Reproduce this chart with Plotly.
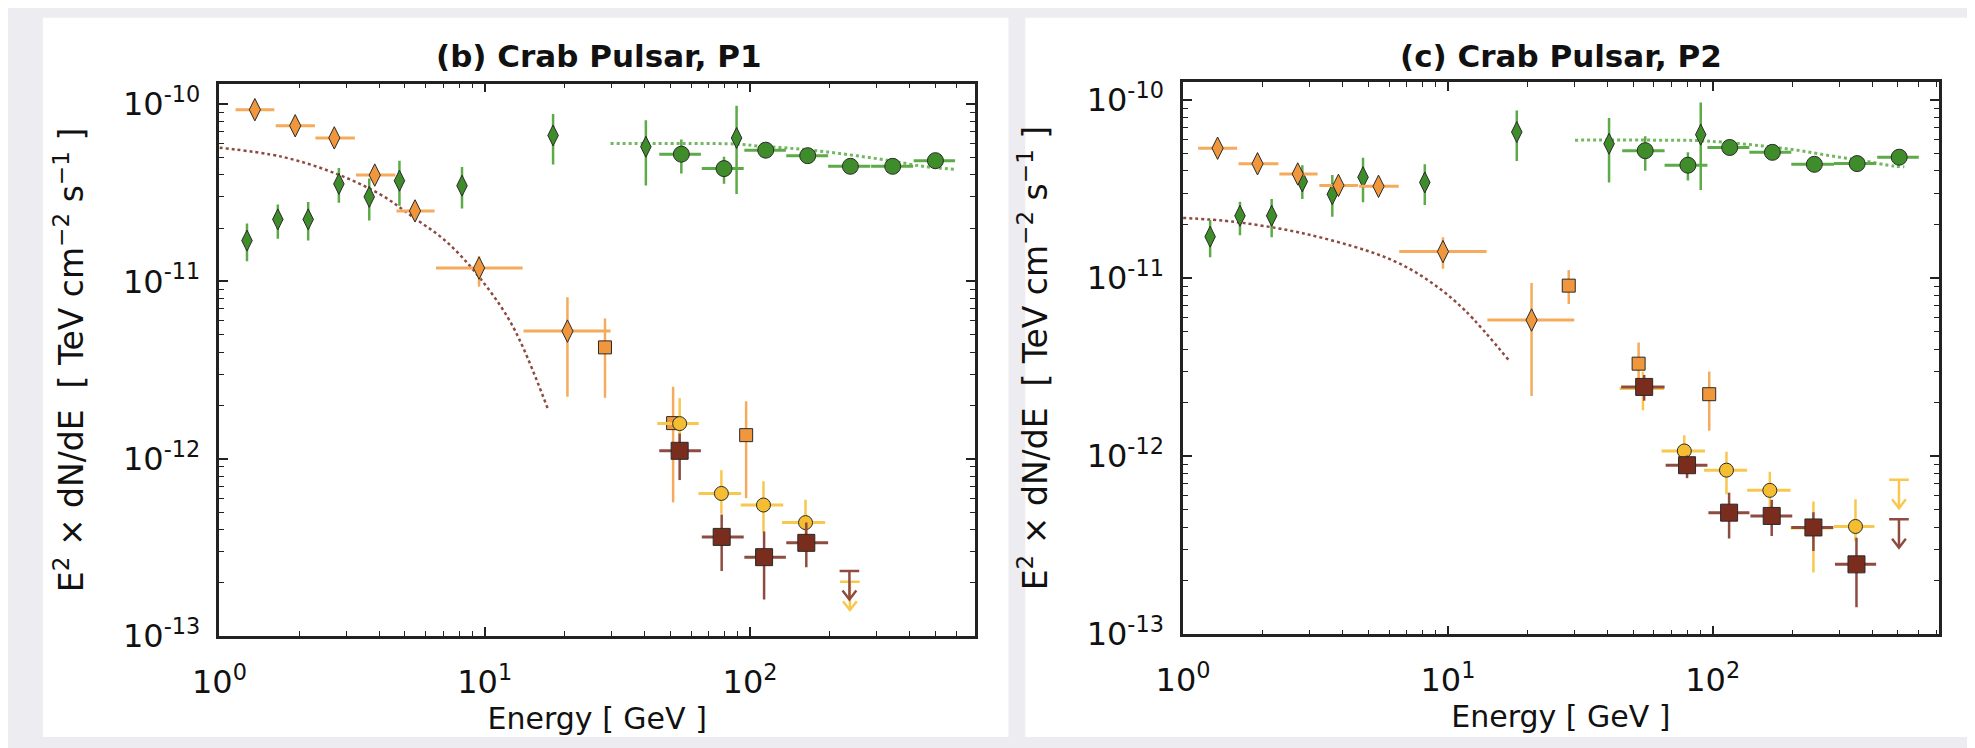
import numpy as np
import plotly.graph_objects as go

# ---------------- data ----------------
# Panel (b) Crab Pulsar, P1
p1_green_diam_E = [1.27, 1.66, 2.16, 2.82, 3.67, 4.77, 8.21, 18.1, 40.5, 89.0]
p1_green_diam_F = [1.70e-11, 2.24e-11, 2.24e-11, 3.55e-11, 3.00e-11, 3.70e-11, 3.47e-11, 6.66e-11, 5.75e-11, 6.44e-11]
p1_green_diam_lo = [1.30e-11, 1.74e-11, 1.70e-11, 2.78e-11, 2.21e-11, 2.67e-11, 2.58e-11, 4.57e-11, 3.48e-11, 3.11e-11]
p1_green_diam_hi = [2.12e-11, 2.72e-11, 2.81e-11, 4.36e-11, 3.81e-11, 4.80e-11, 4.42e-11, 8.81e-11, 8.11e-11, 9.79e-11]

p1_green_circ_E = [55.1, 79.8, 114.6, 165.0, 239.0, 345.0, 500.0]
p1_green_circ_Elo = [45.5, 65.8, 95.2, 137.0, 197.0, 286.0, 414.0]
p1_green_circ_Ehi = [65.3, 94.7, 136.5, 197.0, 284.0, 412.0, 593.0]
p1_green_circ_F = [5.22e-11, 4.33e-11, 5.50e-11, 5.12e-11, 4.46e-11, 4.46e-11, 4.80e-11]
p1_green_circ_lo = [4.06e-11, 3.56e-11, 5.15e-11, 4.80e-11, 4.15e-11, 4.15e-11, 4.45e-11]
p1_green_circ_hi = [6.31e-11, 5.05e-11, 5.85e-11, 5.45e-11, 4.80e-11, 4.80e-11, 5.20e-11]

p1_nebula_model_E = [29.8, 60.0, 90.0, 108.0, 143.0, 190.0, 253.0, 337.0, 448.0, 596.0]
p1_nebula_model_F = [6.0e-11, 6.0e-11, 5.95e-11, 5.8e-11, 5.63e-11, 5.4e-11, 5.11e-11, 4.8e-11, 4.46e-11, 4.28e-11]

p1_cutoff_model_E = [1.0, 1.72, 2.71, 4.05, 5.38, 7.16, 9.52, 12.7, 17.3]
p1_cutoff_model_F = [5.68e-11, 5.05e-11, 4.09e-11, 3.09e-11, 2.30e-11, 1.68e-11, 1.06e-11, 5.66e-12, 1.91e-12]

p1_orange_diam_E = [1.36, 1.93, 2.71, 3.85, 5.46, 9.52, 20.5]
p1_orange_diam_Elo = [1.15, 1.63, 2.30, 3.27, 4.65, 6.55, 14.0]
p1_orange_diam_Ehi = [1.61, 2.29, 3.24, 4.60, 6.47, 13.9, 29.8]
p1_orange_diam_F = [9.3e-11, 7.55e-11, 6.45e-11, 3.98e-11, 2.50e-11, 1.19e-11, 5.25e-12]
p1_orange_diam_lo = [8.8e-11, 7.15e-11, 6.05e-11, 3.72e-11, 2.33e-11, 9.35e-12, 2.24e-12]
p1_orange_diam_hi = [9.8e-11, 7.95e-11, 6.85e-11, 4.25e-11, 2.68e-11, 1.39e-11, 8.15e-12]

p1_orange_sq_E = [28.4, 51.3, 96.7]
p1_orange_sq_F = [4.25e-12, 1.59e-12, 1.36e-12]
p1_orange_sq_lo = [2.21e-12, 5.68e-13, 6.0e-13]
p1_orange_sq_hi = [6.19e-12, 2.55e-12, 2.11e-12]

p1_yellow_E = [54.3, 78.0, 112.4, 161.9]
p1_yellow_Elo = [44.7, 63.9, 92.2, 132.0]
p1_yellow_Ehi = [64.1, 92.6, 133.4, 192.0]
p1_yellow_F = [1.58e-12, 6.38e-13, 5.49e-13, 4.37e-13]
p1_yellow_lo = [1.15e-12, 4.90e-13, 3.86e-13, 3.40e-13]
p1_yellow_hi = [2.20e-12, 8.63e-13, 7.48e-13, 5.87e-13]

p1_brown_E = [54.3, 78.2, 113.0, 163.0]
p1_brown_Elo = [45.5, 65.8, 95.2, 137.0]
p1_brown_Ehi = [65.3, 94.7, 136.5, 197.0]
p1_brown_F = [1.11e-12, 3.63e-13, 2.79e-13, 3.36e-13]
p1_brown_lo = [7.59e-13, 2.33e-13, 1.61e-13, 2.45e-13]
p1_brown_hi = [1.39e-12, 4.86e-13, 3.89e-13, 4.38e-13]

p1_yellow_ul_E = [238.0]
p1_yellow_ul_F = [2.03e-13]
p1_brown_ul_E = [237.0]
p1_brown_ul_F = [2.33e-13]

# Panel (c) Crab Pulsar, P2
p2_green_diam_E = [1.265, 1.64, 2.16, 2.82, 3.66, 4.78, 8.18, 18.2, 40.6, 90.1]
p2_green_diam_F = [1.71e-11, 2.24e-11, 2.24e-11, 3.49e-11, 2.96e-11, 3.69e-11, 3.45e-11, 6.62e-11, 5.69e-11, 6.40e-11]
p2_green_diam_lo = [1.31e-11, 1.74e-11, 1.70e-11, 2.78e-11, 2.21e-11, 2.67e-11, 2.58e-11, 4.55e-11, 3.45e-11, 3.13e-11]
p2_green_diam_hi = [2.12e-11, 2.69e-11, 2.78e-11, 4.31e-11, 3.80e-11, 4.74e-11, 4.37e-11, 8.75e-11, 7.94e-11, 9.70e-11]

p2_green_circ_E = [55.6, 80.6, 115.9, 168.0, 242.0, 351.0, 506.0]
p2_green_circ_Elo = [45.5, 65.8, 95.5, 137.5, 198.0, 287.0, 418.0]
p2_green_circ_Ehi = [65.8, 95.5, 137.5, 198.0, 287.0, 414.0, 600.0]
p2_green_circ_F = [5.20e-11, 4.31e-11, 5.42e-11, 5.09e-11, 4.36e-11, 4.40e-11, 4.78e-11]
p2_green_circ_lo = [4.01e-11, 3.54e-11, 5.10e-11, 4.80e-11, 4.08e-11, 4.12e-11, 4.45e-11]
p2_green_circ_hi = [6.27e-11, 5.09e-11, 5.75e-11, 5.40e-11, 4.66e-11, 4.70e-11, 5.12e-11]

p2_nebula_model_E = [30.2, 60.0, 86.5, 110.0, 154.0, 205.0, 273.0, 365.0, 485.0, 529.0]
p2_nebula_model_F = [5.96e-11, 5.96e-11, 5.93e-11, 5.8e-11, 5.53e-11, 5.25e-11, 4.89e-11, 4.58e-11, 4.26e-11, 4.22e-11]

p2_cutoff_model_E = [1.0, 1.57, 2.77, 4.92, 6.55, 8.71, 11.6, 17.2]
p2_cutoff_model_F = [2.18e-11, 2.07e-11, 1.80e-11, 1.43e-11, 1.21e-11, 9.40e-12, 6.59e-12, 3.38e-12]

p2_orange_diam_E = [1.35, 1.91, 2.71, 3.86, 5.47, 9.58, 20.7]
p2_orange_diam_Elo = [1.14, 1.62, 2.31, 3.27, 4.62, 6.55, 14.1]
p2_orange_diam_Ehi = [1.60, 2.29, 3.22, 4.58, 6.52, 14.0, 30.0]
p2_orange_diam_F = [5.37e-11, 4.39e-11, 3.85e-11, 3.32e-11, 3.28e-11, 1.41e-11, 5.82e-12]
p2_orange_diam_lo = [5.05e-11, 4.12e-11, 3.60e-11, 3.10e-11, 3.05e-11, 1.13e-11, 2.18e-12]
p2_orange_diam_hi = [5.70e-11, 4.67e-11, 4.10e-11, 3.55e-11, 3.50e-11, 1.70e-11, 9.40e-12]

p2_orange_sq_E = [28.6, 52.5, 97.0]
p2_orange_sq_F = [9.08e-12, 3.31e-12, 2.23e-12]
p2_orange_sq_lo = [7.16e-12, 2.50e-12, 1.39e-12]
p2_orange_sq_hi = [1.11e-11, 4.35e-12, 2.99e-12]

p2_yellow_E = [54.5, 78.1, 112.7, 164.3, 240.0, 346.0]
p2_yellow_Elo = [44.5, 64.1, 92.7, 134.9, 196.8, 287.0]
p2_yellow_Ehi = [65.5, 93.5, 134.9, 196.8, 285.0, 408.0]
p2_yellow_F = [2.40e-12, 1.07e-12, 8.35e-13, 6.43e-13, 3.95e-13, 4.03e-13]
p2_yellow_lo = [1.81e-12, 8.36e-13, 6.11e-13, 5.18e-13, 2.22e-13, 3.33e-13]
p2_yellow_hi = [2.99e-12, 1.31e-12, 1.06e-12, 8.18e-13, 5.56e-13, 5.74e-13]

p2_brown_E = [55.1, 80.0, 115.3, 167.0, 240.0, 349.0]
p2_brown_Elo = [45.1, 66.4, 96.3, 138.8, 198.0, 289.5]
p2_brown_Ehi = [65.8, 95.5, 137.6, 199.7, 285.3, 414.0]
p2_brown_F = [2.45e-12, 8.9e-13, 4.82e-13, 4.62e-13, 3.98e-13, 2.47e-13]
p2_brown_lo = [2.05e-12, 7.53e-13, 3.45e-13, 3.56e-13, 2.94e-13, 1.42e-13]
p2_brown_hi = [2.86e-12, 1.01e-12, 6.24e-13, 5.69e-13, 4.85e-13, 3.48e-13]

p2_yellow_ul_E = [505.0]
p2_yellow_ul_F = [7.38e-13]
p2_brown_ul_E = [505.0]
p2_brown_ul_F = [4.43e-13]

# axis tick labels
x_tick_vals = [1, 10, 100]
x_tick_text = ["10<sup>0</sup>", "10<sup>1</sup>", "10<sup>2</sup>"]
y_tick_vals = [1e-13, 1e-12, 1e-11, 1e-10]
y_tick_text = ["10<sup>-13</sup>", "10<sup>-12</sup>", "10<sup>-11</sup>", "10<sup>-10</sup>"]

titles = ["(b) Crab Pulsar, P1", "(c) Crab Pulsar, P2"]
x_title = "Energy [ GeV ]"
y_title = "E<sup>2</sup> × dN/dE  [ TeV cm<sup>−2</sup> s<sup>−1</sup> ]"

# ---------------- styles ----------------
ORANGE = "#F0963C"
ORANGE_E = "#F5AA5C"
GREEN = "#3F8C2A"
GREEN_E = "#5DAA48"
GREEN_DOT = "#73B860"
YELLOW = "#F5BE32"
YELLOW_E = "#F8C84E"
BROWN = "#7A2C1D"
BROWN_E = "#8E4B40"
BROWN_DOT = "#8E4A40"
EDGE = "#2a2a2a"
FONT = "DejaVu Sans"
ARROW_LEN_DEC = 0.16     # length of upper-limit arrows (decades)
ARROW_HEAD_DX = 0.026    # half width of arrow head (decades in x)
ARROW_HEAD_DY = 0.05     # height of arrow head (decades in y)

W, H = 1975, 748
fig = go.Figure()


def errs(v, lo, hi):
    return dict(type="data", symmetric=False,
                array=[h - x for x, h in zip(v, hi)],
                arrayminus=[x - l for x, l in zip(v, lo)])


def series(E, F, lo, hi, xa, ya, symbol, size, fill, ecolor, Elo=None, Ehi=None):
    ey = errs(F, lo, hi)
    ey.update(color=ecolor, thickness=2.5, width=0)
    kw = dict(error_y=ey)
    if Elo is not None:
        ex = errs(E, Elo, Ehi)
        ex.update(color=ecolor, thickness=3, width=0)
        kw["error_x"] = ex
    fig.add_trace(go.Scatter(
        x=E, y=F, mode="markers", xaxis=xa, yaxis=ya,
        marker=dict(symbol=symbol, size=size, color=fill,
                    line=dict(color=EDGE, width=1)),
        hoverinfo="x+y", **kw))


def model(E, F, xa, ya, color, width):
    fig.add_trace(go.Scatter(x=E, y=F, mode="lines", xaxis=xa, yaxis=ya,
                             line=dict(color=color, width=width, dash="dot", shape="spline"),
                             hoverinfo="skip"))


def ul(E, F, xa, ya, color):
    # cap of the upper limit
    fig.add_trace(go.Scatter(x=E, y=F, mode="markers", xaxis=xa, yaxis=ya,
                             marker=dict(symbol="line-ew", size=14,
                                         line=dict(color=color, width=2.5)),
                             hoverinfo="x+y"))
    # stem + open arrow head, derived from the limit values
    xs, ys = [], []
    for e, f in zip(E, F):
        tip = f / 10 ** ARROW_LEN_DEC
        xs += [e, e, None,
               e / 10 ** ARROW_HEAD_DX, e, e * 10 ** ARROW_HEAD_DX, None]
        ys += [f, tip, None,
               tip * 10 ** ARROW_HEAD_DY, tip, tip * 10 ** ARROW_HEAD_DY, None]
    fig.add_trace(go.Scatter(x=xs, y=ys, mode="lines", xaxis=xa, yaxis=ya,
                             line=dict(color=color, width=2.5), hoverinfo="skip"))


panels = [
    dict(xa="x", ya="y",
         gd=(p1_green_diam_E, p1_green_diam_F, p1_green_diam_lo, p1_green_diam_hi),
         gc=(p1_green_circ_E, p1_green_circ_F, p1_green_circ_lo, p1_green_circ_hi, p1_green_circ_Elo, p1_green_circ_Ehi),
         nm=(p1_nebula_model_E, p1_nebula_model_F),
         cm=(p1_cutoff_model_E, p1_cutoff_model_F),
         od=(p1_orange_diam_E, p1_orange_diam_F, p1_orange_diam_lo, p1_orange_diam_hi, p1_orange_diam_Elo, p1_orange_diam_Ehi),
         osq=(p1_orange_sq_E, p1_orange_sq_F, p1_orange_sq_lo, p1_orange_sq_hi),
         yc=(p1_yellow_E, p1_yellow_F, p1_yellow_lo, p1_yellow_hi, p1_yellow_Elo, p1_yellow_Ehi),
         bs=(p1_brown_E, p1_brown_F, p1_brown_lo, p1_brown_hi, p1_brown_Elo, p1_brown_Ehi),
         yul=(p1_yellow_ul_E, p1_yellow_ul_F), bul=(p1_brown_ul_E, p1_brown_ul_F)),
    dict(xa="x2", ya="y2",
         gd=(p2_green_diam_E, p2_green_diam_F, p2_green_diam_lo, p2_green_diam_hi),
         gc=(p2_green_circ_E, p2_green_circ_F, p2_green_circ_lo, p2_green_circ_hi, p2_green_circ_Elo, p2_green_circ_Ehi),
         nm=(p2_nebula_model_E, p2_nebula_model_F),
         cm=(p2_cutoff_model_E, p2_cutoff_model_F),
         od=(p2_orange_diam_E, p2_orange_diam_F, p2_orange_diam_lo, p2_orange_diam_hi, p2_orange_diam_Elo, p2_orange_diam_Ehi),
         osq=(p2_orange_sq_E, p2_orange_sq_F, p2_orange_sq_lo, p2_orange_sq_hi),
         yc=(p2_yellow_E, p2_yellow_F, p2_yellow_lo, p2_yellow_hi, p2_yellow_Elo, p2_yellow_Ehi),
         bs=(p2_brown_E, p2_brown_F, p2_brown_lo, p2_brown_hi, p2_brown_Elo, p2_brown_Ehi),
         yul=(p2_yellow_ul_E, p2_yellow_ul_F), bul=(p2_brown_ul_E, p2_brown_ul_F)),
]

for p in panels:
    xa, ya = p["xa"], p["ya"]
    model(*p["cm"], xa, ya, BROWN_DOT, 2.5)
    model(*p["nm"], xa, ya, GREEN_DOT, 3)
    E, F, lo, hi = p["gd"]
    series(E, F, lo, hi, xa, ya, "diamond-tall", 15, GREEN, GREEN_E)
    E, F, lo, hi, El, Eh = p["gc"]
    series(E, F, lo, hi, xa, ya, "circle", 16, GREEN, GREEN_E, El, Eh)
    E, F, lo, hi, El, Eh = p["od"]
    series(E, F, lo, hi, xa, ya, "diamond-tall", 16, ORANGE, ORANGE_E, El, Eh)
    E, F, lo, hi = p["osq"]
    series(E, F, lo, hi, xa, ya, "square", 13, ORANGE, ORANGE_E)
    E, F, lo, hi, El, Eh = p["yc"]
    series(E, F, lo, hi, xa, ya, "circle", 14, YELLOW, YELLOW_E, El, Eh)
    E, F, lo, hi, El, Eh = p["bs"]
    series(E, F, lo, hi, xa, ya, "square", 17, BROWN, BROWN_E, El, Eh)
    ul(*p["yul"], xa, ya, YELLOW_E)
    ul(*p["bul"], xa, ya, BROWN_E)

minor_vals = [k * 10.0 ** n for n in range(-14, 4) for k in range(2, 10)]


def axis_common(tvals, ttext, title, standoff, label_standoff, title_size):
    return dict(type="log", tickmode="array", tickvals=tvals, ticktext=ttext,
                ticks="inside", ticklen=9, tickwidth=1.5, tickcolor="#222",
                ticklabelstandoff=label_standoff,
                minor=dict(tickmode="array", tickvals=minor_vals, ticks="inside", ticklen=5,
                           tickwidth=1.2, tickcolor="#222", showgrid=False),
                mirror="ticks", showline=True, linecolor="#222", linewidth=2.5,
                showgrid=False, zeroline=False,
                tickfont=dict(family=FONT, size=32, color="#111"),
                title=dict(text=title, font=dict(family=FONT, size=title_size, color="#111"),
                           standoff=standoff))


def xaxis_cfg(domain, anchor, rng):
    d = axis_common(x_tick_vals, x_tick_text, x_title, 6, 16, 30)
    d.update(range=rng, domain=domain, anchor=anchor)
    return d


def yaxis_cfg(domain, anchor, rng):
    d = axis_common(y_tick_vals, y_tick_text, y_title, 30, 10, 33)
    d.update(range=rng, domain=domain, anchor=anchor)
    return d


fig.update_layout(
    width=W, height=H,
    margin=dict(l=0, r=0, t=0, b=0, pad=0),
    paper_bgcolor="#EDECF1", plot_bgcolor="white",
    showlegend=False,
    xaxis=xaxis_cfg([187 / W, 953 / W], "y", [0, 2.848]),
    yaxis=yaxis_cfg([(H - 644) / H, (H - 74) / H], "x", [-13.0, -9.885]),
    xaxis2=xaxis_cfg([1164 / W, 1930 / W], "y2", [0, 2.853]),
    yaxis2=yaxis_cfg([(H - 642) / H, (H - 72) / H], "x2", [-13.0, -9.897]),
    shapes=[
        dict(type="rect", xref="paper", yref="paper", x0=8 / W, x1=987 / W, y0=0, y1=1 - 6 / H,
             fillcolor="white", line=dict(width=0), layer="below"),
        dict(type="rect", xref="paper", yref="paper", x0=1004 / W, x1=1968 / W, y0=0, y1=1 - 6 / H,
             fillcolor="white", line=dict(width=0), layer="below"),
    ],
    annotations=[
        dict(text="<b>" + titles[0] + "</b>", x=572 / W, y=1 - 45 / H, xref="paper", yref="paper",
             showarrow=False, xanchor="center", yanchor="middle",
             font=dict(family=FONT, size=31, color="#111")),
        dict(text="<b>" + titles[1] + "</b>", x=1547 / W, y=1 - 45 / H, xref="paper", yref="paper",
             showarrow=False, xanchor="center", yanchor="middle",
             font=dict(family=FONT, size=31, color="#111")),
    ],
)

fig.write_html("out.html")
